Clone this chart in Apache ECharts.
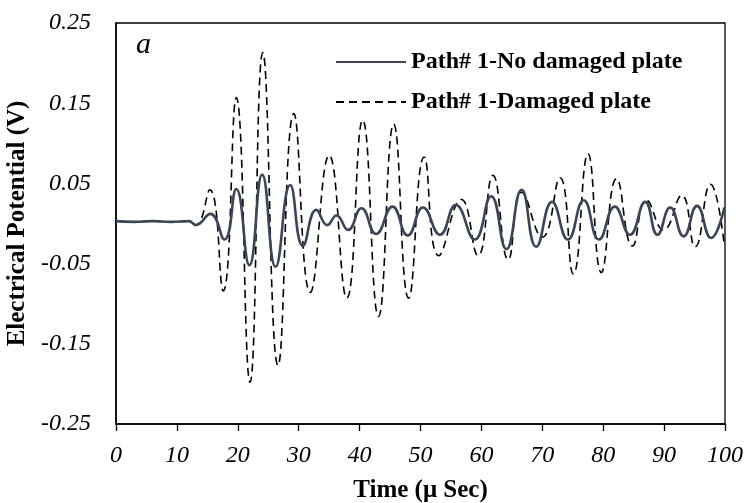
<!DOCTYPE html>
<html>
<head>
<meta charset="utf-8">
<script src="https://cdn.jsdelivr.net/npm/echarts@6/dist/echarts.min.js"></script>
<style>
html,body{margin:0;padding:0;background:#fff;}
#chart{width:746px;height:503px;}
</style>
</head>
<body>
<div id="chart"></div>
<script>
// Series names
var seriesNames = ['Path# 1-No damaged plate', 'Path# 1-Damaged plate'];
// Axis settings / tick labels
var xTicks = [0, 10, 20, 30, 40, 50, 60, 70, 80, 90, 100];
var yTickLabels = ['-0.25', '-0.15', '-0.05', '0.05', '0.15', '0.25'];

// Pre-excitation baseline (time µs, volts)
var baseline = [[0, 0.003], [3, 0.002], [6, 0.003], [9, 0.002], [12, 0.003]];

// No-damage signal: peaks/troughs (time µs, volts)
var noDamage = [
  [13.1, -0.002], [15.5, 0.012], [17.8, -0.020], [19.75, 0.043], [21.9, -0.052],
  [24.0, 0.061], [26.2, -0.054], [28.6, 0.048], [30.7, -0.028], [32.9, 0.017],
  [34.7, -0.002], [36.2, 0.010], [38.1, -0.008], [40.3, 0.019], [42.7, -0.013],
  [45.4, 0.021], [47.9, -0.015], [50.4, 0.020], [53.2, -0.014], [55.8, 0.023],
  [58.9, -0.020], [61.6, 0.034], [64.1, -0.032], [66.6, 0.042], [69.0, -0.029],
  [71.6, 0.027], [74.2, -0.020], [76.8, 0.029], [79.3, -0.020], [81.9, 0.021],
  [84.4, -0.014], [86.9, 0.027], [88.9, -0.014], [91.0, 0.020], [93.2, -0.016],
  [95.4, 0.022], [97.7, -0.018], [99.9, 0.020]
];

// Damaged signal: peaks/troughs (time µs, volts)
var damaged = [
  [13.1, -0.002], [15.4, 0.042], [17.6, -0.084], [19.75, 0.157], [22.0, -0.198],
  [24.1, 0.213], [26.6, -0.177], [29.2, 0.137], [31.9, -0.086], [35.0, 0.085],
  [37.9, -0.093], [40.5, 0.129], [43.1, -0.116], [45.6, 0.124], [48.05, -0.093],
  [50.6, 0.083], [53.0, -0.040], [56.7, 0.030], [59.45, -0.040], [61.9, 0.060],
  [64.4, -0.045], [66.6, 0.039], [70.0, -0.017], [72.9, 0.057], [75.1, -0.063],
  [77.5, 0.087], [79.7, -0.061], [82.2, 0.056], [84.8, -0.028], [87.1, 0.029],
  [89.9, -0.008], [92.9, 0.035], [95.1, -0.029], [97.6, 0.049], [99.9, -0.028]
];

var FONT = '"Liberation Serif", "Times New Roman", serif';
var chart = echarts.init(document.getElementById('chart'), null, {renderer: 'canvas'});

chart.setOption({
  animation: false,
  backgroundColor: '#fff',
  grid: {left: 116, right: 21, top: 23, bottom: 79, show: true, borderColor: '#000', borderWidth: 1.3,
         outerBoundsMode: 'none', containLabel: false},
  legend: {
    orient: 'vertical', left: 330, top: 45,
    itemWidth: 70, itemHeight: 24, itemGap: 16,
    data: seriesNames,
    itemStyle: {opacity: 0},
    textStyle: {fontFamily: FONT, fontWeight: 'bold', fontSize: 24, color: '#000', lineHeight: 24}
  },
  xAxis: {
    type: 'value', min: xTicks[0], max: xTicks[xTicks.length - 1], interval: 10,
    name: 'Time (μ Sec)', nameLocation: 'middle', nameGap: 54,
    nameTextStyle: {fontFamily: FONT, fontWeight: 'bold', fontSize: 25, color: '#000'},
    axisLine: {onZero: false, lineStyle: {color: '#000', width: 1.5}},
    axisTick: {show: true, inside: false, length: 7, lineStyle: {color: '#000', width: 1.3}},
    axisLabel: {fontFamily: FONT, fontStyle: 'italic', fontSize: 24, color: '#000', margin: 20},
    splitLine: {show: false}
  },
  yAxis: {
    type: 'value', min: -0.25, max: 0.25, interval: 0.1,
    name: 'Electrical Potential (V)', nameLocation: 'middle', nameGap: 79, nameRotate: 90,
    nameTextStyle: {fontFamily: FONT, fontWeight: 'bold', fontSize: 25, color: '#000'},
    axisLine: {show: true, onZero: false, lineStyle: {color: '#000', width: 1.5}},
    axisTick: {show: false},
    axisLabel: {
      fontFamily: FONT, fontStyle: 'italic', fontSize: 24, color: '#000', margin: 25,
      formatter: function (v) {
        var s = v.toFixed(2);
        var i = yTickLabels.indexOf(s);
        return i >= 0 ? yTickLabels[i] : s;
      }
    },
    splitLine: {show: false}
  },
  graphic: [{
    type: 'text', left: 136, top: 30,
    style: {text: 'a', fontFamily: FONT, fontStyle: 'italic', fontSize: 30, fill: '#000'}
  }],
  series: [
    {
      name: seriesNames[1], type: 'line', smooth: 0.5, symbol: 'none',
      data: baseline.concat(damaged),
      lineStyle: {color: '#000', width: 1.6, type: [8, 5]},
      itemStyle: {color: '#000'},
      z: 2
    },
    {
      name: seriesNames[0], type: 'line', smooth: 0.5, symbol: 'none',
      data: baseline.concat(noDamage),
      lineStyle: {color: '#3a4658', width: 2.6},
      itemStyle: {color: '#3a4658'},
      z: 3
    }
  ]
});
</script>
</body>
</html>
